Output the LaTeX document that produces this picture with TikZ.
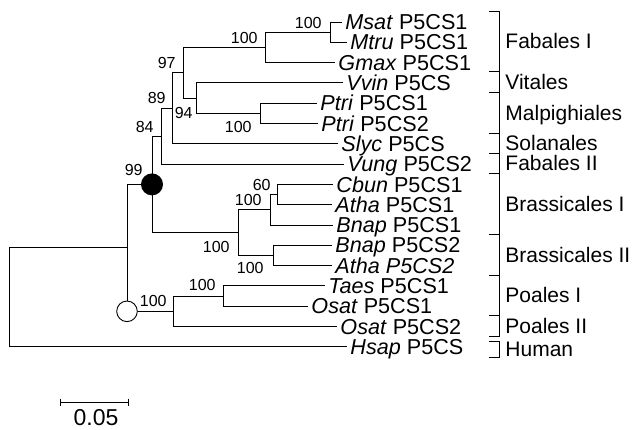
\documentclass[tikz,border=0pt]{standalone}
\usepackage{fontspec}
\setmainfont{Liberation Sans}
\begin{document}
\begin{tikzpicture}[x=1pt, y=-1pt, line width=0.9pt,
    leaf/.style={anchor=west, inner xsep=3pt, inner ysep=0pt, font=\fontsize{21.6}{21.6}\selectfont, text height=15.3pt, text depth=0pt},
    boot/.style={anchor=base east, inner sep=0pt, font=\fontsize{16}{16}\selectfont},
    clade/.style={anchor=west, inner sep=0pt, font=\fontsize{21}{21}\selectfont, text height=15pt, text depth=0pt}]
                \useasboundingbox (0,0) rectangle (632,429);

                % Leaves
                \node[leaf] (msat) at (342,22) {\textit{Msat} P5CS1};
                \node[leaf] (mtru) at (347,42.3) {\textit{Mtru} P5CS1};
                \node[leaf] (gmax) at (335,62.6) {\textit{Gmax} P5CS1};
                \node[leaf] (vvin) at (343,82.9) {\textit{Vvin} P5CS};
                \node[leaf] (ptrione) at (317,103.2) {\textit{Ptri} P5CS1};
                \node[leaf] (ptritwo) at (318,123.5) {\textit{Ptri} P5CS2};
                \node[leaf] (slyc) at (338,143.8) {\textit{Slyc} P5CS};
                \node[leaf] (vung) at (344,164.1) {\textit{Vung} P5CS2};
                \node[leaf] (cbun) at (333,184.4) {\textit{Cbun} P5CS1};
                \node[leaf] (athaone) at (332,204.7) {\textit{Atha} P5CS1};
                \node[leaf] (bnapone) at (333,225) {\textit{Bnap} P5CS1};
                \node[leaf] (bnaptwo) at (332,245.3) {\textit{Bnap} P5CS2};
                \node[leaf] (athatwo) at (332,265.6) {\textit{Atha P5CS2}};
                \node[leaf] (taes) at (325,285.9) {\textit{Taes} P5CS1};
                \node[leaf] (osatone) at (308,306.2) {\textit{Osat} P5CS1};
                \node[leaf] (osattwo) at (337,326.5) {\textit{Osat} P5CS2};
                \node[leaf] (hsap) at (347,346.8) {\textit{Hsap} P5CS};

                % Inner nodes
                \coordinate (root) at (9.5,297.3);
                \coordinate (ingroup) at (127,247.8);
                \coordinate (poastem) at (127,311.3);
                \coordinate (n99) at (152,184.4);
                \coordinate (n84) at (161,136.2);
                \coordinate (n89) at (172,108.3);
                \coordinate (n97) at (183,72.8);
                \coordinate (nfab) at (265,47.4);
                \coordinate (nmed) at (330,32.15);
                \coordinate (n94) at (196,98.1);
                \coordinate (nptri) at (260,113.35);
                \coordinate (nbras) at (238,232.6);
                \coordinate (nbrasone) at (270,209.8);
                \coordinate (ncbun) at (277,194.55);
                \coordinate (nbrastwo) at (273,255.45);
                \coordinate (npoa) at (173,311.3);
                \coordinate (npoaone) at (223,296);

                % Branches
                \draw (root) |- (ingroup) (root) |- (hsap.west);
                \draw (ingroup) |- (n99) (ingroup) |- (npoa);
                \draw (n99) |- (n84) (n99) |- (nbras);
                \draw (n84) |- (n89) (n84) |- (vung.west);
                \draw (n89) |- (n97) (n89) |- (slyc.west);
                \draw (n97) |- (nfab) (n97) |- (n94);
                \draw (nfab) |- (nmed) (nfab) |- (gmax.west);
                \draw (nmed) |- (msat.west) (nmed) |- (mtru.west);
                \draw (n94) |- (vvin.west) (n94) |- (nptri);
                \draw (nptri) |- (ptrione.west) (nptri) |- (ptritwo.west);
                \draw (nbras) |- (nbrasone) (nbras) |- (nbrastwo);
                \draw (nbrasone) |- (ncbun) (nbrasone) |- (bnapone.west);
                \draw (ncbun) |- (cbun.west) (ncbun) |- (athaone.west);
                \draw (nbrastwo) |- (bnaptwo.west) (nbrastwo) |- (athatwo.west);
                \draw (npoa) |- (npoaone) (npoa) |- (osattwo.west);
                \draw (npoaone) |- (taes.west) (npoaone) |- (osatone.west);

                % Marked nodes
                \fill (n99) circle (11);
                \draw[fill=white] (poastem) circle (10.3);

                % Bootstrap values
                \node[boot] (bmed) at (322,28) {100};
                \node[boot] (bfab) at (258,43) {100};
                \node[boot] (b97) at (176,68) {97};
                \node[boot] (b89) at (166,103) {89};
                \node[boot] (b84) at (154,132) {84};
                \node[boot] (b94) at (193,118) {94};
                \node[boot] (bptri) at (252,132) {100};
                \node[boot] (b99) at (143,175) {99};
                \node[boot] (bcbun) at (271,190) {60};
                \node[boot] (bbrasone) at (262,205) {100};
                \node[boot] (bbras) at (230,252) {100};
                \node[boot] (bbrastwo) at (264,273) {100};
                \node[boot] (bpoaone) at (216,290) {100};
                \node[boot] (bpoa) at (167,306) {100};

                % Clade brackets
                \draw (489,11) -| (499,71.5) -- (489,71.5);
                \draw (489,71.5) -| (499,92.5) -- (489,92.5);
                \draw (489,92.5) -| (499,133) -- (489,133);
                \draw (489,133) -| (499,153.5) -- (489,153.5);
                \draw (489,153.5) -| (499,173.5) -- (489,173.5);
                \draw (489,173.5) -| (499,234) -- (489,234);
                \draw (489,234) -| (499,275) -- (489,275);
                \draw (489,275) -| (499,315) -- (489,315);
                \draw (489,315) -| (499,336) -- (489,336);
                \draw (489,341) -| (499,357) -- (489,357);

                \node[clade] (fabone) at (505,41) {Fabales I};
                \node[clade] (vitales) at (505,82) {Vitales};
                \node[clade] (malpig) at (505,112.7) {Malpighiales};
                \node[clade] (solan) at (505,143) {Solanales};
                \node[clade] (fabtwo) at (505,162.8) {Fabales II};
                \node[clade] (brasone) at (505,203.7) {Brassicales I};
                \node[clade] (brastwo) at (505,254.5) {Brassicales II};
                \node[clade] (poaone) at (505,295) {Poales I};
                \node[clade] (poatwo) at (505,325.5) {Poales II};
                \node[clade] (human) at (505,349) {Human};

                % Scale bar
                \coordinate (sbl) at (60,402);
                \coordinate (sbr) at (128,402);
                \draw (sbl) -- (sbr);
                \draw ([yshift=3.5pt]sbl) -- ([yshift=-3.5pt]sbl);
                \draw ([yshift=3.5pt]sbr) -- ([yshift=-3.5pt]sbr);
                \node[inner sep=0pt, font=\fontsize{23}{23}\selectfont] (scale) at (96,417.5) {0.05};
            \end{tikzpicture}
\end{document}
